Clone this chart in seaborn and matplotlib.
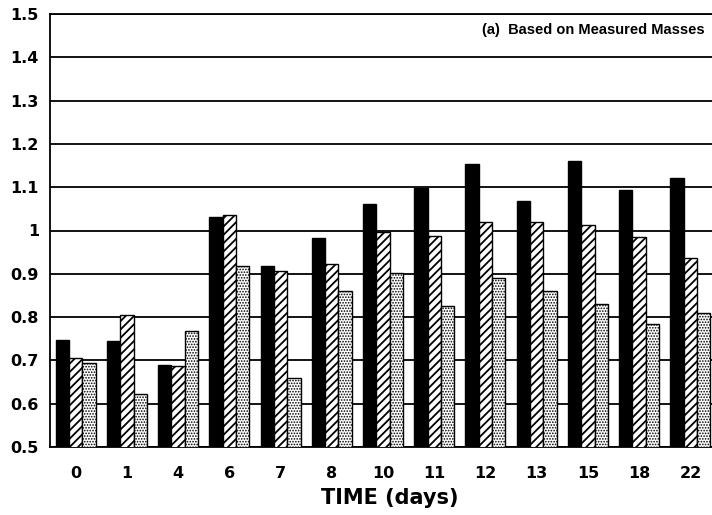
import matplotlib
matplotlib.use("Agg")
import matplotlib.pyplot as plt
import seaborn as sns
import pandas as pd

days = ["0", "1", "4", "6", "7", "8", "10", "11", "12", "13", "15", "18", "22"]
series_a = [0.746, 0.744, 0.690, 1.032, 0.919, 0.982, 1.062, 1.099, 1.154, 1.069, 1.160, 1.093, 1.121]
series_b = [0.706, 0.805, 0.687, 1.035, 0.906, 0.923, 0.996, 0.988, 1.020, 1.020, 1.012, 0.985, 0.936]
series_c = [0.694, 0.623, 0.769, 0.917, 0.660, 0.860, 0.902, 0.826, 0.890, 0.860, 0.830, 0.784, 0.809]
series_names = ["A", "B", "C"]
y_ticks = [0.5, 0.6, 0.7, 0.8, 0.9, 1.0, 1.1, 1.2, 1.3, 1.4, 1.5]
y_tick_labels = ["0.5", "0.6", "0.7", "0.8", "0.9", "1", "1.1", "1.2", "1.3", "1.4", "1.5"]
panel_title = "(a)  Based on Measured Masses"
x_label = "TIME (days)"

rows = []
for name, vals in zip(series_names, [series_a, series_b, series_c]):
    for d, v in zip(days, vals):
        rows.append({"day": d, "series": name, "value": v})
df = pd.DataFrame(rows)

sns.set_style("white")
plt.rcParams["font.family"] = ["Liberation Sans", "DejaVu Sans"]
plt.rcParams["hatch.linewidth"] = 1.0
plt.rcParams["text.color"] = "black"
plt.rcParams["axes.labelcolor"] = "black"
plt.rcParams["xtick.color"] = "black"
plt.rcParams["ytick.color"] = "black"

fig = plt.figure(figsize=(7.12, 5.15), dpi=100)
ax = fig.add_axes([50 / 712, (515 - 447) / 515, 666 / 712, (447 - 14) / 515])

sns.barplot(data=df, x="day", y="value", hue="series", order=days,
            hue_order=series_names, palette=["black", "white", "white"],
            width=0.78, gap=0, edgecolor="black", linewidth=1.0,
            legend=False, ax=ax, zorder=3)

hatches = [None, "////", "......"]
hatch_lw = [1.0, 1.3, 0.8]
for cont, h, hl in zip(ax.containers, hatches, hatch_lw):
    for p in cont:
        if h:
            p.set_hatch(h)
            if hasattr(p, "set_hatch_linewidth"):
                p.set_hatch_linewidth(hl)

ax.set_ylim(0.5, 1.5)
ax.set_xlim(-0.5, len(days) - 0.5)
ax.set_yticks(y_ticks)
ax.set_yticklabels(y_tick_labels, fontsize=11.5, fontweight="bold", family="DejaVu Sans")
ax.set_xticks(range(len(days)))
ax.set_xticklabels(days, fontsize=11.5, fontweight="bold", family="DejaVu Sans")
ax.tick_params(axis="y", length=0, pad=8)
ax.tick_params(axis="x", length=0, pad=14)
ax.yaxis.grid(True, color="black", linewidth=1.3, zorder=1)
ax.set_axisbelow(True)
for s in ax.spines.values():
    s.set_color("black")
    s.set_linewidth(1.3)
ax.set_xlabel(x_label, fontsize=15, fontweight="bold", family="DejaVu Sans", labelpad=2)
ax.xaxis.set_label_coords((390 - 50) / 666, -0.095)
ax.set_ylabel("")

fig.text(482 / 712, 1 - 30 / 515, panel_title, fontsize=10.5, fontweight="bold",
         ha="left", va="center")

fig.savefig("out.png", dpi=100)
